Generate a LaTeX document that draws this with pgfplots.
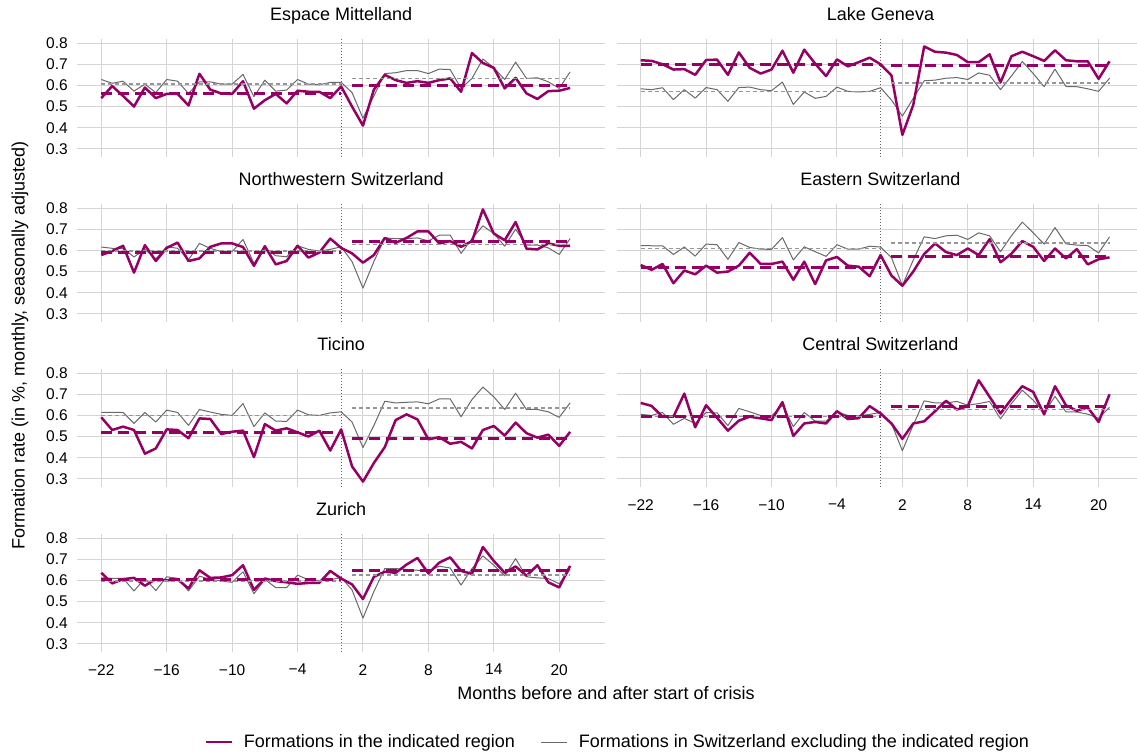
\documentclass[border=0pt]{standalone}
\usepackage{pgfplots}
\pgfplotsset{compat=1.18}
\usepackage{pgfplotstable}
\usepackage{fontspec}
\setmainfont{Liberation Sans}
\definecolor{reg}{RGB}{150,0,100}
\definecolor{oth}{RGB}{105,105,105}
\definecolor{othm}{RGB}{150,150,150}
\definecolor{grd}{RGB}{212,212,212}
\newcommand\ticksize{\fontsize{15.5}{18}\selectfont}
\newcommand\labsize{\fontsize{18}{21}\selectfont}

\pgfplotstableread{
x   EMr   EMs   LGr   LGs   NWr   NWs   ESr   ESs   TIr   TIs   CSr   CSs   ZHr   ZHs
-22 0.540 0.628 0.719 0.584 0.578 0.616 0.531 0.623 0.591 0.614 0.659 0.605 0.636 0.612
-21 0.597 0.610 0.716 0.580 0.597 0.610 0.508 0.622 0.531 0.614 0.645 0.600 0.586 0.610
-20 0.550 0.620 0.700 0.589 0.622 0.610 0.536 0.622 0.547 0.614 0.594 0.614 0.606 0.610
-19 0.500 0.573 0.675 0.533 0.495 0.569 0.445 0.581 0.531 0.562 0.594 0.558 0.612 0.550
-18 0.590 0.606 0.677 0.580 0.625 0.605 0.505 0.616 0.419 0.614 0.703 0.586 0.575 0.610
-17 0.540 0.566 0.650 0.540 0.550 0.560 0.487 0.573 0.444 0.569 0.544 0.562 0.606 0.552
-16 0.560 0.628 0.720 0.590 0.612 0.617 0.528 0.630 0.534 0.625 0.648 0.614 0.600 0.617
-15 0.560 0.620 0.722 0.580 0.637 0.610 0.495 0.627 0.531 0.614 0.589 0.612 0.605 0.610
-14 0.505 0.562 0.650 0.525 0.550 0.555 0.500 0.558 0.492 0.553 0.528 0.552 0.562 0.550
-13 0.655 0.617 0.756 0.590 0.562 0.633 0.528 0.637 0.586 0.628 0.575 0.633 0.648 0.620
-12 0.580 0.617 0.683 0.592 0.617 0.610 0.589 0.614 0.583 0.616 0.594 0.617 0.612 0.606
-11 0.562 0.606 0.656 0.580 0.633 0.594 0.536 0.606 0.512 0.605 0.586 0.600 0.614 0.597
-10 0.560 0.606 0.675 0.575 0.633 0.594 0.536 0.605 0.523 0.600 0.578 0.597 0.625 0.591
-9  0.620 0.652 0.764 0.616 0.616 0.652 0.547 0.661 0.528 0.656 0.663 0.648 0.672 0.641
-8  0.490 0.547 0.660 0.510 0.527 0.539 0.461 0.555 0.403 0.547 0.503 0.547 0.555 0.537
-7  0.530 0.625 0.769 0.569 0.620 0.610 0.547 0.617 0.559 0.612 0.562 0.614 0.609 0.605
-6  0.560 0.573 0.703 0.539 0.534 0.575 0.441 0.594 0.528 0.573 0.569 0.573 0.597 0.566
-5  0.515 0.578 0.644 0.548 0.550 0.570 0.553 0.572 0.539 0.572 0.562 0.573 0.591 0.566
-4  0.575 0.628 0.723 0.592 0.622 0.622 0.569 0.627 0.520 0.625 0.620 0.617 0.584 0.625
-3  0.570 0.606 0.690 0.572 0.566 0.605 0.528 0.606 0.500 0.603 0.583 0.600 0.588 0.603
-2  0.570 0.603 0.710 0.569 0.590 0.597 0.523 0.606 0.528 0.600 0.587 0.598 0.589 0.600
-1  0.540 0.614 0.731 0.572 0.656 0.605 0.478 0.620 0.434 0.612 0.644 0.605 0.645 0.603
0   0.595 0.614 0.700 0.589 0.612 0.617 0.578 0.616 0.534 0.617 0.609 0.614 0.609 0.614
1   0.500 0.566 0.647 0.531 0.586 0.547 0.481 0.566 0.359 0.569 0.562 0.562 0.581 0.555
2   0.410 0.445 0.366 0.455 0.542 0.422 0.433 0.434 0.287 0.448 0.489 0.433 0.512 0.422
3   0.580 0.550 0.508 0.539 0.578 0.547 0.500 0.555 0.375 0.552 0.562 0.555 0.617 0.547
4   0.650 0.656 0.784 0.622 0.659 0.659 0.583 0.664 0.450 0.667 0.572 0.669 0.641 0.656
5   0.625 0.660 0.759 0.625 0.636 0.656 0.633 0.656 0.578 0.659 0.620 0.659 0.636 0.656
6   0.612 0.670 0.755 0.634 0.659 0.656 0.592 0.669 0.605 0.662 0.669 0.659 0.675 0.652
7   0.620 0.670 0.744 0.637 0.690 0.659 0.578 0.672 0.581 0.664 0.628 0.666 0.706 0.648
8   0.612 0.656 0.710 0.628 0.690 0.645 0.609 0.652 0.487 0.655 0.644 0.648 0.633 0.644
9   0.625 0.677 0.710 0.659 0.633 0.672 0.578 0.683 0.497 0.678 0.766 0.656 0.684 0.667
10  0.633 0.675 0.747 0.648 0.644 0.672 0.653 0.669 0.466 0.678 0.688 0.666 0.709 0.659
11  0.570 0.586 0.614 0.580 0.617 0.586 0.544 0.594 0.475 0.594 0.609 0.584 0.645 0.578
12  0.753 0.633 0.738 0.644 0.644 0.656 0.584 0.669 0.444 0.675 0.677 0.656 0.631 0.656
13  0.706 0.725 0.759 0.713 0.794 0.716 0.644 0.734 0.531 0.734 0.738 0.719 0.758 0.716
14  0.683 0.683 0.738 0.656 0.680 0.680 0.617 0.683 0.550 0.688 0.711 0.672 0.692 0.672
15  0.586 0.628 0.716 0.594 0.648 0.620 0.550 0.630 0.505 0.628 0.605 0.612 0.636 0.622
16  0.636 0.710 0.766 0.677 0.734 0.700 0.609 0.708 0.566 0.705 0.738 0.690 0.666 0.703
17  0.562 0.633 0.719 0.595 0.608 0.625 0.562 0.631 0.516 0.628 0.648 0.617 0.622 0.617
18  0.536 0.636 0.714 0.594 0.605 0.625 0.606 0.625 0.495 0.628 0.622 0.616 0.672 0.612
19  0.573 0.617 0.714 0.584 0.633 0.612 0.534 0.623 0.509 0.617 0.638 0.606 0.591 0.609
20  0.575 0.586 0.631 0.572 0.622 0.581 0.558 0.588 0.456 0.591 0.569 0.586 0.567 0.584
21  0.588 0.664 0.714 0.634 0.622 0.656 0.567 0.664 0.522 0.659 0.700 0.638 0.669 0.652
}\data

\pgfplotsset{
  panel/.style={
    scale only axis, width=527.7pt, height=117.4pt,
    xmin=-24.2, xmax=24.2, ymin=0.263, ymax=0.818,
    xtick={-22,-16,-10,-4,2,8,14,20},
    ytick={0.3,0.4,0.5,0.6,0.7,0.8},
    xticklabels={}, yticklabels={},
    axis line style={draw=none},
    major tick length=0pt, tick style={draw=none},
    xmajorgrids, ymajorgrids,
    grid style={grd, line width=1pt},
    tick label style={font=\ticksize},
    yticklabel style={xshift=-6pt},
    xticklabel style={yshift=-9pt},
    title style={font=\labsize, at={(0.5,1)}, anchor=base, yshift=13pt},
  },
  rpanel/.style={panel, width=520.3pt, xmax=23.52,
    title style={at={(0.507,1)}}},
  ylab/.style={yticklabels={0.3,0.4,0.5,0.6,0.7,0.8}},
  xlab/.style={xticklabels={−22,−16,−10,−4,2,8,14,20}},
  sline/.style={oth, line width=1pt, line join=round},
  rline/.style={reg, line width=2.5pt, line join=round},
  smean/.style={othm, line width=1.5pt, dash pattern=on 4pt off 3pt},
  rmean/.style={reg, line width=3pt, dash pattern=on 11pt off 6pt},
  vline/.style={black!60, line width=0.8pt, dash pattern=on 1pt off 2pt},
}

\newcommand\panelplots[6]{%
  \addplot[vline] coordinates {(0,0.263) (0,0.818)};
  \addplot[sline] table[x=x,y=#1s]{\data};
  \addplot[rline] table[x=x,y=#1r]{\data};
  \addplot[smean] coordinates {(-22,#4) (0,#4)};
  \addplot[smean] coordinates {(1,#5) (21,#5)};
  \addplot[rmean] coordinates {(-22,#2) (0,#2)};
  \addplot[rmean] coordinates {(1,#3) (21,#3)};
}

\begin{document}
\begin{tikzpicture}
\path[use as bounding box] (0pt,0pt) rectangle (1137pt,-752pt);

\begin{axis}[panel, ylab, at={(77.3pt,-39.3pt)}, anchor=north west, title={Espace Mittelland}]
\panelplots{EM}{0.560}{0.600}{0.606}{0.633}{}
\end{axis}

\begin{axis}[rpanel, at={(616.7pt,-39.3pt)}, anchor=north west, title={Lake Geneva}]
\panelplots{LG}{0.700}{0.694}{0.572}{0.611}{}
\end{axis}

\begin{axis}[panel, ylab, at={(77.3pt,-204.3pt)}, anchor=north west, title={Northwestern Switzerland}]
\panelplots{NW}{0.590}{0.644}{0.597}{0.628}{}
\end{axis}

\begin{axis}[rpanel, at={(616.7pt,-204.3pt)}, anchor=north west, title={Eastern Switzerland}]
\panelplots{ES}{0.520}{0.573}{0.608}{0.636}{}
\end{axis}

\begin{axis}[panel, ylab, at={(77.3pt,-369.3pt)}, anchor=north west, title={Ticino}]
\panelplots{TI}{0.519}{0.491}{0.600}{0.636}{}
\end{axis}

\begin{axis}[rpanel, xlab, at={(616.7pt,-369.3pt)}, anchor=north west, title={Central Switzerland}]
\panelplots{CS}{0.597}{0.641}{0.595}{0.627}{}
\end{axis}

\begin{axis}[panel, ylab, xlab, at={(77.3pt,-534.3pt)}, anchor=north west, title={Zurich},
  legend style={at={(1.024,-0.769)}, anchor=center, draw=none, fill=none,
    font=\labsize, legend columns=2,
    /tikz/every odd column/.append style={column sep=9pt},
    /tikz/every even column/.append style={column sep=24pt}},
  legend image code/.code={\draw[#1] (0pt,0pt) -- (26pt,0pt);}]
\addlegendimage{rline}
\addlegendentry{Formations in the indicated region}
\addlegendimage{oth, line width=0.8pt}
\addlegendentry{Formations in Switzerland excluding the indicated region}
\panelplots{ZH}{0.606}{0.645}{0.598}{0.625}{}
\end{axis}

\node[font=\labsize, rotate=90] at (20pt,-345.5pt) {Formation rate (in \%, monthly, seasonally adjusted)};
\node[font=\labsize] at (606pt,-693pt) {Months before and after start of crisis};
\end{tikzpicture}
\end{document}
